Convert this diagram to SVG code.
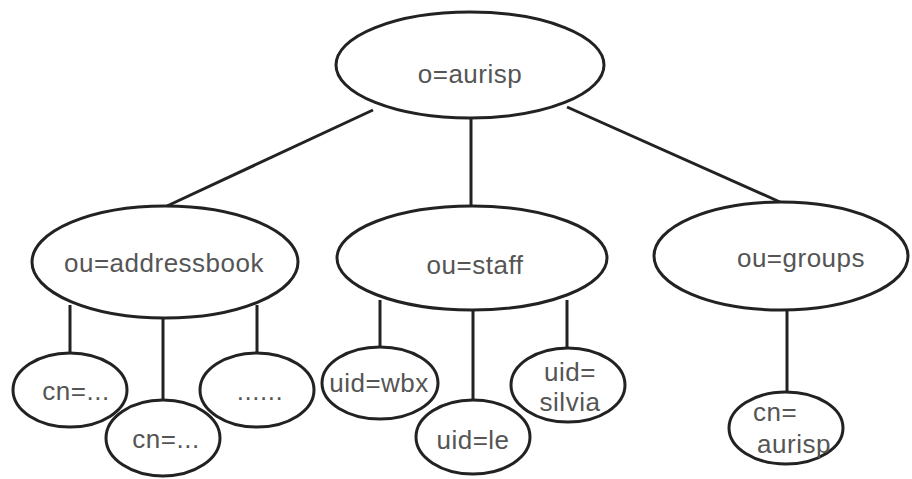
<svg xmlns="http://www.w3.org/2000/svg" width="912" height="479" viewBox="0 0 912 479">
  <style>
    .node ellipse { fill: #ffffff; stroke: #222222; stroke-width: 3; }
    .node text { font-family: "Liberation Sans", Arial, sans-serif; font-size: 26px; letter-spacing: 0.5px; fill: #555555; text-anchor: middle; dominant-baseline: central; }
    .edges line { stroke: #222222; stroke-width: 3; }
  </style>
  <rect width="912" height="479" fill="#ffffff"/>

  <!-- tree edges -->
  <g id="edges" class="edges">
    <line x1="373" y1="110" x2="167" y2="206"/>
    <line x1="471" y1="118" x2="471" y2="206"/>
    <line x1="567" y1="107" x2="780" y2="202"/>
    <line x1="70" y1="305" x2="70" y2="353"/>
    <line x1="163" y1="318" x2="163" y2="400"/>
    <line x1="257" y1="305" x2="257" y2="353"/>
    <line x1="380" y1="300" x2="380" y2="347"/>
    <line x1="473" y1="310" x2="473" y2="400"/>
    <line x1="567" y1="300" x2="567" y2="348"/>
    <line x1="787" y1="310" x2="787" y2="392"/>
  </g>

  <g id="root" class="node">
    <ellipse cx="470" cy="65" rx="134" ry="53"/>
    <text x="470" y="74">o=aurisp</text>
  </g>

  <g id="addressbook" class="node">
    <ellipse cx="165" cy="262" rx="133" ry="56"/>
    <text x="164" y="263">ou=addressbook</text>
  </g>

  <g id="staff" class="node">
    <ellipse cx="472" cy="258" rx="135" ry="52"/>
    <text x="475" y="265">ou=staff</text>
  </g>

  <g id="groups" class="node">
    <ellipse cx="781" cy="256" rx="127" ry="54"/>
    <text x="801" y="258">ou=groups</text>
  </g>

  <g id="cn1" class="node">
    <ellipse cx="70" cy="390" rx="57" ry="37"/>
    <text x="76" y="391">cn=...</text>
  </g>

  <g id="cn2" class="node">
    <ellipse cx="163" cy="438" rx="57" ry="38"/>
    <text x="166" y="439">cn=...</text>
  </g>

  <g id="more" class="node">
    <ellipse cx="257" cy="390" rx="57" ry="37"/>
    <text x="260" y="391">......</text>
  </g>

  <g id="uid-wbx" class="node">
    <ellipse cx="380" cy="383" rx="58" ry="36"/>
    <text x="379" y="383">uid=wbx</text>
  </g>

  <g id="uid-le" class="node">
    <ellipse cx="473" cy="437" rx="57" ry="37"/>
    <text x="473" y="440">uid=le</text>
  </g>

  <g id="uid-silvia" class="node">
    <ellipse cx="568" cy="385" rx="57" ry="37"/>
    <text x="570" y="372">uid=</text>
    <text x="570" y="402">silvia</text>
  </g>

  <g id="cn-aurisp" class="node">
    <ellipse cx="786" cy="428" rx="57" ry="36"/>
    <text x="775" y="412">cn=</text>
    <text x="794" y="444">aurisp</text>
  </g>
</svg>
